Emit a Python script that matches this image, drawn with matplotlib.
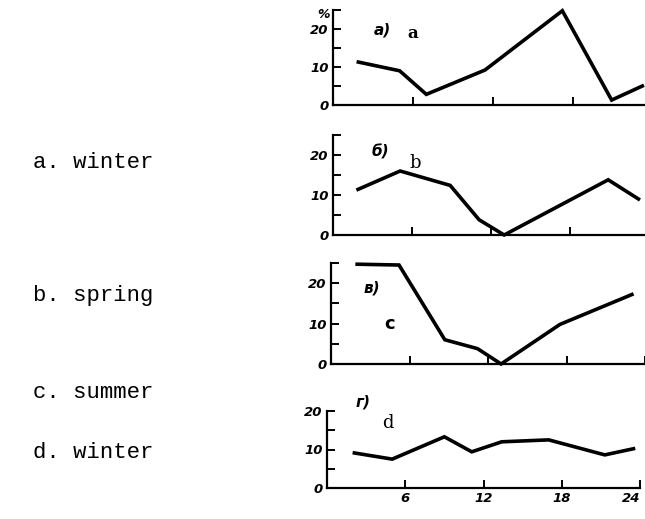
import matplotlib
matplotlib.use("Agg")
import matplotlib.pyplot as plt

# ---- data ----
hours_a = [1.9, 5.0, 7.0, 11.4, 17.2, 20.9, 23.2]
vals_a = [11.3, 9.0, 2.8, 9.2, 24.8, 1.3, 5.0]

hours_b = [1.9, 5.1, 8.9, 11.1, 13.0, 20.9, 23.2]
vals_b = [11.4, 16.0, 12.4, 3.8, 0.0, 13.8, 9.0]

hours_c = [2.0, 5.2, 8.7, 11.2, 13.0, 17.5, 23.0]
vals_c = [24.7, 24.5, 6.0, 3.8, 0.0, 9.8, 17.2]

hours_d = [2.1, 5.0, 9.0, 11.1, 13.4, 17.0, 21.3, 23.5]
vals_d = [9.1, 7.5, 13.3, 9.4, 12.0, 12.5, 8.6, 10.2]

panel_tags = ["а)", "б)", "в)", "г)"]
panel_letters = ["a", "b", "c", "d"]
season_labels = ["a. winter", "b. spring", "c. summer", "d. winter"]
x_ticks = [6, 12, 18, 24]
x_tick_labels = ["6", "12", "18", "24"]

W, H = 645, 519
fig = plt.figure(figsize=(W / 100, H / 100), dpi=100)
fig.patch.set_facecolor("white")

# (left_px, right_px, bottom_px, top_px, ymax)
boxes = [
    (333, 653, 105, 10, 25),
    (333, 649, 235, 135, 25),
    (331, 645, 364, 263, 25),
    (327, 640, 488, 411, 20),
]
series = [(hours_a, vals_a), (hours_b, vals_b), (hours_c, vals_c), (hours_d, vals_d)]

tickfont = dict(family="DejaVu Sans", style="italic", weight="bold", size=9.5)

axes = []
for i, ((l, r, b, t, ymax), (xs, ys)) in enumerate(zip(boxes, series)):
    ax = fig.add_axes([l / W, 1 - b / H, (r - l) / W, (b - t) / H])
    ax.set_facecolor("none")
    ax.plot(xs, ys, color="black", lw=2.6, solid_joinstyle="miter", clip_on=False)
    ax.set_xlim(0, 24)
    ax.set_ylim(0, ymax)
    for s in ["top", "right"]:
        ax.spines[s].set_visible(False)
    for s in ["left", "bottom"]:
        ax.spines[s].set_linewidth(1.6)
    ax.set_yticks(list(range(0, ymax + 1, 5)))
    ax.set_yticklabels([str(v) if v % 10 == 0 else "" for v in range(0, ymax + 1, 5)],
                       fontdict=tickfont)
    ax.set_xticks(x_ticks)
    if i == 3:
        labs = ax.set_xticklabels(x_tick_labels, fontdict=tickfont)
        labs[-1].set_horizontalalignment("right")
    else:
        ax.set_xticklabels([])
    ax.tick_params(axis="both", direction="in", length=6, width=1.4, pad=3)
    axes.append(ax)

# "%" above the top y-axis
fig.text(324 / W, 1 - 14 / H, "%", ha="center", va="center",
         fontsize=9, fontstyle="italic", fontweight="bold")

# panel tags and letters
tag_pos = [(382, 30), (380, 152), (372, 288), (363, 402)]
let_pos = [(413, 33), (415, 163), (390, 324), (388, 423)]
let_font = [
    dict(family="DejaVu Serif", weight="bold", size=12),
    dict(family="DejaVu Serif", weight="normal", size=13),
    dict(family="DejaVu Sans", weight="bold", size=13),
    dict(family="DejaVu Serif", weight="normal", size=13),
]
for (tx, ty), tag in zip(tag_pos, panel_tags):
    fig.text(tx / W, 1 - ty / H, tag, ha="center", va="center",
             fontsize=11, fontstyle="italic", fontweight="bold")
for (lx, ly), lt, fd in zip(let_pos, panel_letters, let_font):
    fig.text(lx / W, 1 - ly / H, lt, ha="center", va="center", fontdict=fd)

# season labels on the left
season_y = [162, 295, 392, 452]
for y, s in zip(season_y, season_labels):
    fig.text(33 / W, 1 - y / H, s, ha="left", va="center",
             family="Liberation Mono", fontsize=16)

fig.savefig("out.png", dpi=100, facecolor="white")
